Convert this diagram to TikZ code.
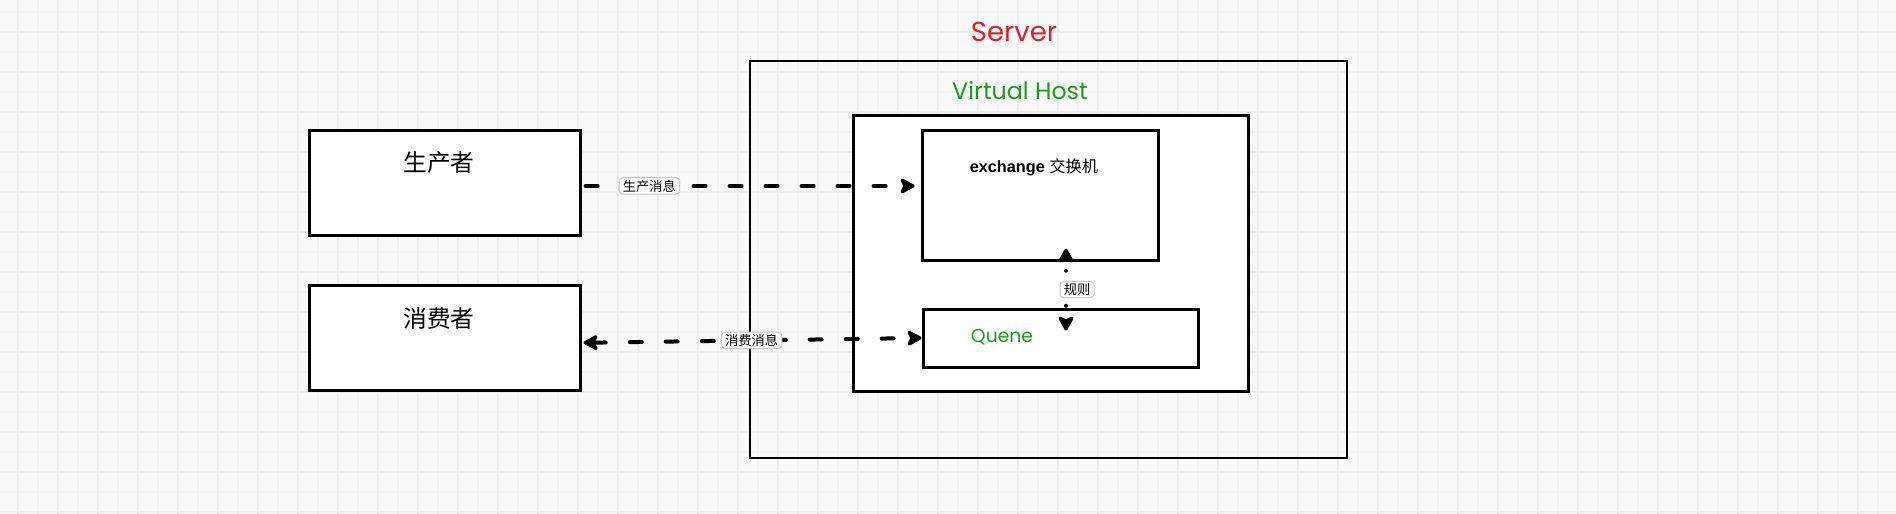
\documentclass[tikz,border=0pt]{standalone}
\usepackage{fontspec}
\setsansfont{Liberation Sans}
\newfontfamily\cjk{Noto Sans CJK SC}
\newfontfamily\rnd{Poppins}
\usetikzlibrary{arrows.meta}
\definecolor{servred}{RGB}{214,36,43}
\definecolor{hostgreen}{RGB}{30,155,30}
\definecolor{paper}{RGB}{249,249,249}
\definecolor{gridminor}{RGB}{242,242,242}
\definecolor{gridmajor}{RGB}{236,236,236}

\begin{document}
\begin{tikzpicture}[x=0.4pt,y=-0.4pt,
		>={Stealth[length=7pt,width=7.5pt,inset=1.8pt,round]},
		box/.style={draw,line width=1.2pt,fill=white,inner sep=0pt},
		frame/.style={draw,line width=1.1pt,inner sep=0pt},
		flow/.style={line width=1.6pt,line cap=round,dash pattern=on 4.8pt off 9.6pt},
		rule/.style={line width=1.6pt,line cap=round,dash pattern=on 0pt off 14pt,dash phase=9.2pt},
		tag/.style={draw=black!22,solid,line width=0.4pt,fill=white,rounded corners=1.5pt,inner xsep=1.5pt,inner ysep=0.8pt,font=\cjk\fontsize{5.3}{6}\selectfont}]
		\useasboundingbox (0,0) rectangle (1896,514);
		\fill[paper] (0,0) rectangle (1896,514);
		\foreach \X in {38,78,...,1896} \draw[gridminor,line width=0.5pt] (\X,0) -- (\X,514);
		\foreach \Y in {12,52,...,514} \draw[gridminor,line width=0.5pt] (0,\Y) -- (1896,\Y);
		\foreach \X in {18,58,...,1896} \draw[gridmajor,line width=0.7pt] (\X,0) -- (\X,514);
		\foreach \Y in {32,72,...,514} \draw[gridmajor,line width=0.7pt] (0,\Y) -- (1896,\Y);
		% boxes
		\node[frame,minimum width=238.8pt,minimum height=158.8pt] (server) at (1048.5,259.5) {};
		\node[box,minimum width=158pt,minimum height=110.4pt] (vhost) at (1050.5,253) {};
		\node[box,minimum width=94.4pt,minimum height=52.2pt] (exchange) at (1040,195.3) {};
		\node[box,minimum width=110pt,minimum height=23.2pt] (quene) at (1060.5,338) {};
		\node[box,minimum width=108.2pt,minimum height=42.1pt] (producer) at (444.8,183.2) {};
		\node[box,minimum width=108.2pt,minimum height=42.2pt] (consumer) at (444.8,337.8) {};
		% texts
		\node[text=servred,font=\rnd\fontsize{11}{13}\selectfont] (server-title) at (1014,32) {Server};
		\node[text=hostgreen,font=\rnd\fontsize{9.5}{11}\selectfont] (vhost-title) at (1020,90.5) {Virtual Host};
		\node[font=\fontsize{6.5}{8}\selectfont] (exchange-name) at (1034,167) {\sffamily\bfseries exchange \cjk\mdseries 交换机};
		\node[text=hostgreen,font=\rnd\fontsize{7.5}{9}\selectfont] (quene-name) at (1002,337) {Quene};
		\node[font=\cjk\fontsize{9.5}{11}\selectfont] (producer-name) at (439,163) {生产者};
		\node[font=\cjk\fontsize{9.5}{11}\selectfont] (consumer-name) at (439,318) {消费者};
		% connectors
		\draw[flow,->,shorten <=1.6pt,shorten >=2.4pt] ([yshift=-1.1pt]producer.east) -- ([yshift=-1.1pt]producer.east -| exchange.west) node[tag,pos=0.2] {生产消息};
		\draw[flow,<->,shorten <=0.8pt] ([yshift=-2pt]consumer.east) -- (quene.west) node[tag,pos=0.5] {消费消息};
		\draw[rule,<->] ([xshift=10.4pt,yshift=5.4pt]exchange.south) -- ([xshift=2.2pt,yshift=-9.2pt]quene.north) node[tag,pos=0.5,xshift=4.4pt] {规则};
	\end{tikzpicture}
\end{document}
